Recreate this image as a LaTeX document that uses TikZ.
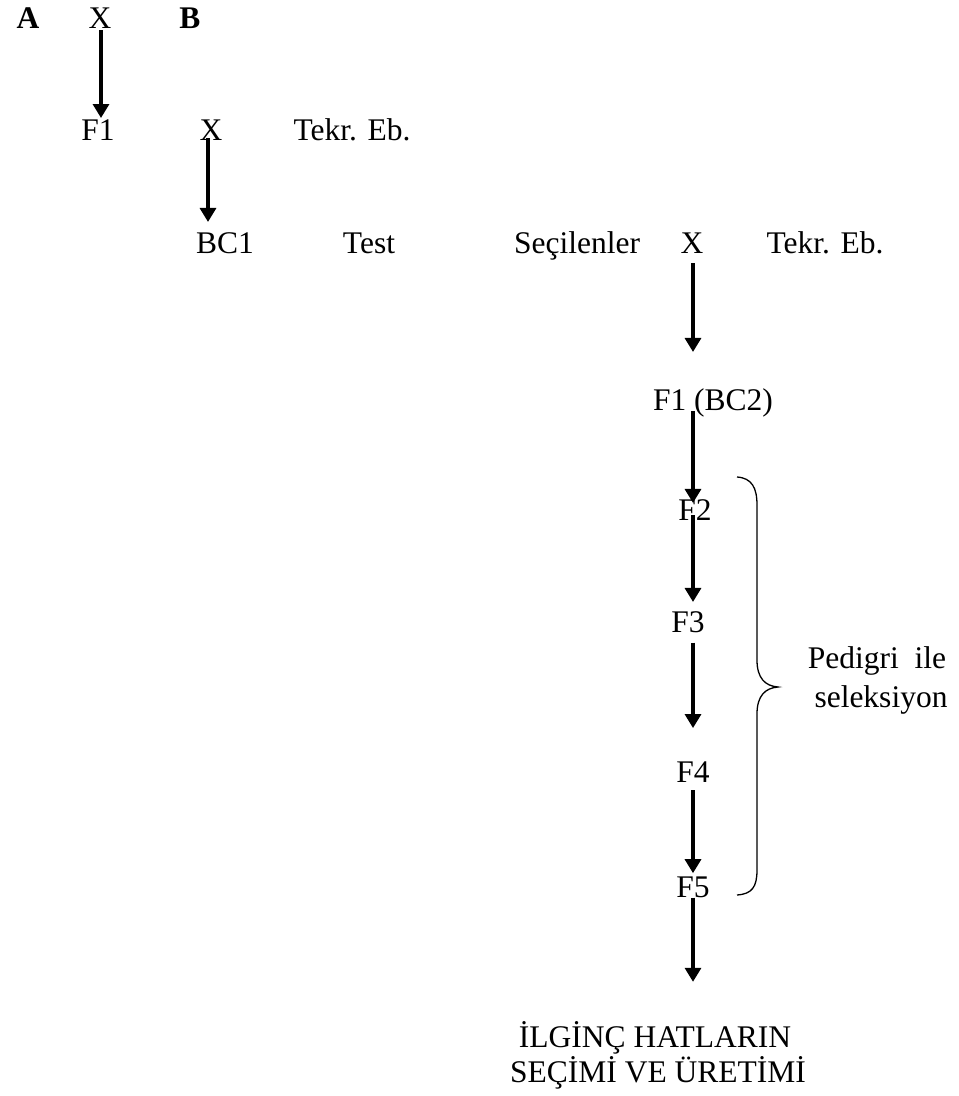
\documentclass[tikz,border=0pt]{standalone}
\usepackage{fontspec}
\setmainfont{Liberation Serif}
\usetikzlibrary{arrows.meta}
\begin{document}
\begin{tikzpicture}[x=1pt,y=-1pt,
  lbl/.style={inner sep=0pt,anchor=base,font=\fontsize{31.5}{36}\selectfont},
  bl/.style={lbl,font=\fontsize{31.5}{36}\selectfont\bfseries},
  arr/.style={line width=3.2pt,-{Triangle[width=16pt,length=14pt]}},
  brace/.style={line width=1.3pt}]
\useasboundingbox[fill=white] (0,0) rectangle (959,1096);
% columns
\coordinate (c1) at (101,0);
\coordinate (c2) at (208,0);
\coordinate (c3) at (693,0);
% row 1
\node[bl] (a) at (28,28) {A};
\node[lbl] (x1) at (100,28) {X};
\node[bl] (b) at (190,28) {B};
% row 2
\node[lbl] (f1) at (98,140) {F1};
\node[lbl] (x2) at (211,140) {X};
\node[lbl] (tekr1) at (352,140) {Tekr. Eb.};
% row 3
\node[lbl] (bc1) at (225,253) {BC1};
\node[lbl] (test) at (369,253) {Test};
\node[lbl] (sec) at (577,253) {Seçilenler};
\node[lbl] (x3) at (692,253) {X};
\node[lbl] (tekr2) at (825,253) {Tekr. Eb.};
% chain
\node[lbl] (f1bc2) at (713,410) {F1 (BC2)};
\node[lbl] (f2) at (695,520) {F2};
\node[lbl] (f3) at (688,632) {F3};
\node[lbl] (f4) at (693,782) {F4};
\node[lbl] (f5) at (693,897) {F5};
\node[lbl] (ped1) at (877,668) {Pedigri\ \ ile};
\node[lbl] (ped2) at (881,707) {seleksiyon};
\node[lbl] (out1) at (655,1047) {İLGİNÇ HATLARIN};
\node[lbl] (out2) at (658,1082) {SEÇİMİ VE ÜRETİMİ};
% arrows
\draw[arr,shorten <=2pt,shorten >=1pt] (x1.south -| c1) -- (f1.north -| c1);
\draw[arr,shorten <=-2pt,shorten >=10pt] (x2.south -| c2) -- (bc1.north -| c2);
\draw[arr,shorten <=10pt,shorten >=36pt] (x3.south -| c3) -- (f1bc2.north -| c3);
\draw[arr,shorten <=-6pt,shorten >=-4pt] (f1bc2.south -| c3) -- (f2.north -| c3);
\draw[arr,shorten <=-5pt,shorten >=9pt] (f2.south -| c3) -- (f3.north -| c3);
\draw[arr,shorten <=10pt,shorten >=33pt] (f3.south -| c3) -- (f4.north -| c3);
\draw[arr,shorten <=8pt,shorten >=3pt] (f4.south -| c3) -- (f5.north -| c3);
\draw[arr,shorten <=0pt,shorten >=39pt] (f5.south -| c3) -- (out1.north -| c3);
% brace
\draw[brace] (737,477) .. controls (752,478) and (757,488) .. (757,505)
  -- (757,660) .. controls (757,678) and (765,686) .. (778,687)
  .. controls (765,688) and (757,696) .. (757,714)
  -- (757,870) .. controls (757,887) and (752,894) .. (737,895);
\end{tikzpicture}
\end{document}
